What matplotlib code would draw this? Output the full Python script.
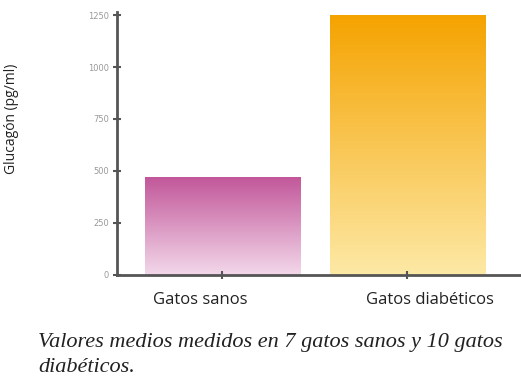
import matplotlib
matplotlib.use('agg')
import matplotlib.pyplot as plt
import numpy as np
from matplotlib.colors import LinearSegmentedColormap

# Glucagón medio por grupo
grupos = ['Gatos sanos', 'Gatos diabéticos']
glucagon = [470, 1250]
y_ticks = [0, 250, 500, 750, 1000, 1250]

# colores del degradado (arriba -> abajo)
degradados = [
    ('#c2579a', '#f3d8ea'),
    ('#f5a300', '#fde9a6'),
]

fig = plt.figure(figsize=(5.21, 3.84), dpi=100)
ax = fig.add_axes([0.2246, 0.284, 0.774, 0.685])

pos = np.arange(len(grupos))
bars = ax.bar(pos, glucagon, width=0.84, color='none', edgecolor='none', zorder=2)

# rellenar cada barra con un degradado vertical
grad = np.linspace(0, 1, 256).reshape(-1, 1)
for b, (top, bottom) in zip(bars, degradados):
    cmap = LinearSegmentedColormap.from_list('g', [bottom, top])
    x0, y0 = b.get_x(), b.get_y()
    im = ax.imshow(grad, cmap=cmap, aspect='auto', origin='lower',
                   extent=[x0, x0 + b.get_width(), y0, y0 + b.get_height()],
                   zorder=1)
    im.set_clip_path(b)

ax.set_xlim(-0.57, 1.61)
ax.set_ylim(0, 1265)
ax.set_yticks(y_ticks)
ax.set_yticklabels([str(v) for v in y_ticks])
ax.set_xticks(pos)
ax.set_xticklabels([])

for s in ['top', 'right']:
    ax.spines[s].set_visible(False)
for s in ['left', 'bottom']:
    ax.spines[s].set_color('#555555')
    ax.spines[s].set_linewidth(2)

ax.tick_params(axis='y', direction='inout', length=6, width=1.5, color='#555555',
               labelsize=6, labelcolor='#999999', pad=3)
ax.tick_params(axis='x', direction='inout', length=6, width=1.5, color='#555555')

# etiquetas de grupo, algo desplazadas de las marcas
ax.text(-0.12, -0.095, grupos[0], transform=ax.get_xaxis_transform(),
        ha='center', va='center', fontsize=12, family='Open Sans', color='#222222')
ax.text(1.12, -0.095, grupos[1], transform=ax.get_xaxis_transform(),
        ha='center', va='center', fontsize=12, family='Open Sans', color='#222222')

fig.text(0.023, 0.69, 'Glucagón (pg/ml)', rotation=90, ha='center', va='center',
         fontsize=10, family='Open Sans', color='#222222')

fig.text(0.073, 0.109, 'Valores medios medidos en 7 gatos sanos y 10 gatos',
         ha='left', va='center', fontsize=16, family='Liberation Serif',
         style='italic', color='#222222')
fig.text(0.073, 0.042, 'diabéticos.', ha='left', va='center', fontsize=16,
         family='Liberation Serif', style='italic', color='#222222')

fig.savefig('out.png', dpi=100)
